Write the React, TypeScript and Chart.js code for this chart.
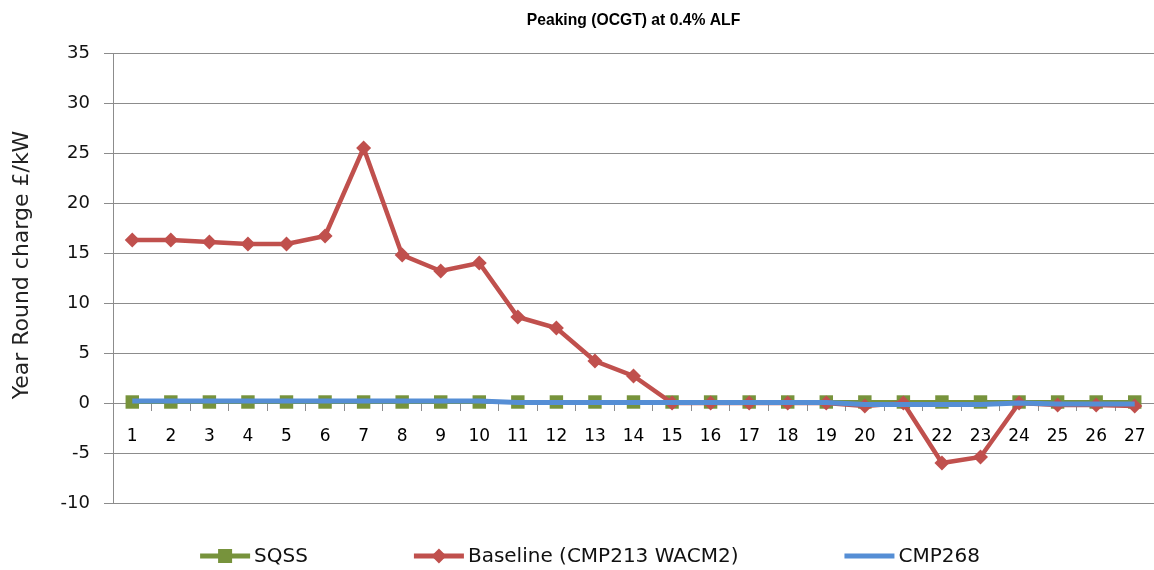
import React, { useEffect, useRef } from 'react';
import { Chart, registerables } from 'chart.js';

Chart.register(...registerables);

const categories = ['1','2','3','4','5','6','7','8','9','10','11','12','13','14','15','16','17','18','19','20','21','22','23','24','25','26','27'];
const sqssValues = [0.1,0.1,0.1,0.1,0.1,0.1,0.1,0.1,0.1,0.1,0.1,0.1,0.1,0.1,0.1,0.1,0.1,0.1,0.1,0.1,0.1,0.1,0.1,0.1,0.1,0.1,0.1];
const baselineValues = [16.3,16.3,16.1,15.9,15.9,16.7,25.5,14.8,13.2,14.0,8.6,7.5,4.2,2.7,0,0,0,0,0,-0.3,0,-6.0,-5.4,0,-0.2,-0.2,-0.3];
const cmp268Values = [0.2,0.2,0.2,0.2,0.2,0.2,0.2,0.2,0.2,0.2,0.05,0.05,0.05,0.05,0.05,0.05,0.05,0.05,0.05,-0.15,-0.15,-0.15,-0.15,0,-0.1,-0.1,-0.1];
const seriesNames = ['SQSS', 'Baseline (CMP213 WACM2)', 'CMP268'];
const yMin = -10;
const yMax = 35;
const yStep = 5;
const chartTitle = 'Peaking (OCGT) at 0.4% ALF';
const yAxisTitle = 'Year Round charge £/kW';

const GREEN = '#77933C';
const RED = '#C0504D';
const BLUE = '#558ED5';
const GRID = '#8C8C8C';

const legendPlugin = {
  id: 'xlLegend',
  afterDraw(chart: any) {
    const ctx = chart.ctx;
    const items = [0, 1, 2].map((i) => chart.data.datasets[i]);
    ctx.save();
    ctx.font = '20px "DejaVu Sans"';
    const lineLen = 50;
    const gap = 4;
    const spacing = 106;
    const widths = items.map((d: any) => lineLen + gap + ctx.measureText(d.label).width);
    const total = widths.reduce((a: number, b: number) => a + b, 0) + spacing * (items.length - 1);
    let x = chart.width / 2 + 13 - total / 2;
    const y = 556;
    items.forEach((d: any, i: number) => {
      ctx.strokeStyle = d.borderColor;
      ctx.lineWidth = 5;
      ctx.beginPath();
      ctx.moveTo(x, y);
      ctx.lineTo(x + lineLen, y);
      ctx.stroke();
      const cx = x + lineLen / 2;
      ctx.fillStyle = d.pointBackgroundColor;
      if (d.pointStyle === 'rect' && d.pointRadius > 0) {
        ctx.fillRect(cx - 7, y - 7, 14, 14);
      } else if (d.pointStyle === 'rectRot' && d.pointRadius > 0) {
        ctx.beginPath();
        ctx.moveTo(cx, y - 7.5);
        ctx.lineTo(cx + 7.5, y);
        ctx.lineTo(cx, y + 7.5);
        ctx.lineTo(cx - 7.5, y);
        ctx.closePath();
        ctx.fill();
      }
      ctx.fillStyle = '#111';
      ctx.textBaseline = 'middle';
      ctx.textAlign = 'left';
      ctx.fillText(d.label, x + lineLen + gap, y + 1);
      x += widths[i] + spacing;
    });
    ctx.restore();
  },
};

const yTitlePlugin = {
  id: 'yTitle',
  afterDraw(chart: any) {
    const ctx = chart.ctx;
    ctx.save();
    ctx.translate(22, 265);
    ctx.rotate(-Math.PI / 2);
    ctx.font = '22px "DejaVu Sans"';
    ctx.fillStyle = '#222';
    ctx.textAlign = 'center';
    ctx.textBaseline = 'middle';
    ctx.fillText(yAxisTitle, 0, 0);
    ctx.restore();
  },
};

export default function App() {
  const canvasRef = useRef<HTMLCanvasElement | null>(null);

  useEffect(() => {
    document.body.style.margin = '0';
    const canvas = canvasRef.current;
    if (!canvas) return;
    const chart = new Chart(canvas, {
      type: 'line',
      data: {
        labels: categories,
        datasets: [
          {
            label: seriesNames[0],
            data: sqssValues,
            borderColor: GREEN,
            backgroundColor: GREEN,
            pointBackgroundColor: GREEN,
            pointBorderColor: GREEN,
            pointStyle: 'rect',
            pointRadius: 9.5,
            pointBorderWidth: 0,
            borderWidth: 4,
            tension: 0,
            order: 3,
            clip: false as any,
          },
          {
            label: seriesNames[1],
            data: baselineValues,
            borderColor: RED,
            backgroundColor: RED,
            pointBackgroundColor: RED,
            pointBorderColor: RED,
            pointStyle: 'rectRot',
            pointRadius: 7.5,
            pointBorderWidth: 0,
            borderWidth: 4.5,
            tension: 0,
            order: 2,
            clip: false as any,
          },
          {
            label: seriesNames[2],
            data: cmp268Values,
            borderColor: BLUE,
            backgroundColor: BLUE,
            pointBackgroundColor: BLUE,
            pointStyle: 'circle',
            pointRadius: 0,
            borderWidth: 5,
            tension: 0,
            order: 1,
            clip: false as any,
          },
        ],
      },
      options: {
        responsive: false,
        animation: false,
        layout: { autoPadding: false, padding: { left: 0, right: -2, top: 0, bottom: 67 } },
        plugins: {
          legend: { display: false },
          tooltip: { enabled: false },
          title: {
            display: true,
            text: chartTitle,
            fullSize: false,
            color: '#000',
            font: { family: '"Liberation Sans", sans-serif', size: 15.7, weight: 'bold' },
            padding: { top: 11, bottom: 23.16 },
          },
        },
        scales: {
          x: {
            type: 'category',
            position: { y: 0 } as any,
            offset: true,
            afterFit: (scale: any) => {
              scale.paddingLeft = 0;
              scale.paddingRight = 0;
            },
            grid: {
              display: true,
              drawOnChartArea: false,
              drawTicks: true,
              tickLength: 7,
              offset: true,
              color: GRID,
            },
            border: { display: true, color: GRID, width: 1 },
            ticks: {
              color: '#000',
              font: { family: '"DejaVu Sans"', size: 17 },
              padding: 16,
              maxRotation: 0,
              autoSkip: false,
            },
          },
          y: {
            type: 'linear',
            min: yMin,
            max: yMax,
            afterFit: (scale: any) => {
              scale.width = 113;
            },
            ticks: {
              stepSize: yStep,
              color: '#111',
              font: { family: '"DejaVu Sans"', size: 18 },
              padding: 14,
            },
            grid: {
              color: GRID,
              lineWidth: 1,
              tickLength: 9,
              drawTicks: true,
            },
            border: { display: true, color: GRID, width: 1 },
            title: { display: false, text: yAxisTitle },
          },
        },
      },
      plugins: [legendPlugin, yTitlePlugin],
    });
    return () => chart.destroy();
  }, []);

  return (
    <div style={{ position: 'absolute', left: 0, top: 0, width: 1154, height: 570, background: '#fff' }}>
      <canvas ref={canvasRef} width={1154} height={570} />
    </div>
  );
}
